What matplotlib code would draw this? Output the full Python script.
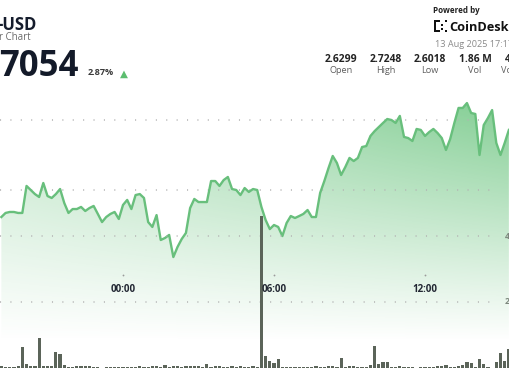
import numpy as np
import matplotlib.pyplot as plt
from matplotlib.patches import Rectangle

plt.rcParams['font.family'] = ['Open Sans', 'DejaVu Sans']

# 10 minute candles, minutes relative to 00:00
minutes = np.arange(-290, 921, 10)

prices = [2.6307, 2.6336, 2.6343, 2.6343, 2.6336, 2.6336, 2.6529, 2.6500, 2.6471, 2.6450,
          2.6550, 2.6457, 2.6443, 2.6471, 2.6507, 2.6407, 2.6336, 2.6364, 2.6364, 2.6379,
          2.6350, 2.6371, 2.6386, 2.6329, 2.6271, 2.6307, 2.6329, 2.6343, 2.6293, 2.6393,
          2.6429, 2.6364, 2.6464, 2.6471, 2.6443, 2.6271, 2.6236, 2.6321, 2.6143, 2.6157,
          2.6179, 2.6021, 2.6093, 2.6150, 2.6193, 2.6371, 2.6436, 2.6414, 2.6414, 2.6414,
          2.6564, 2.6564, 2.6529, 2.6571, 2.6593, 2.6507, 2.6500, 2.6464, 2.6514, 2.6486,
          2.6507, 2.6500, 2.6379, 2.6286, 2.6221, 2.6250, 2.6236, 2.6171, 2.6264, 2.6314,
          2.6300, 2.6314, 2.6329, 2.6357, 2.6307, 2.6307, 2.6479, 2.6564, 2.6657, 2.6743,
          2.6693, 2.6607, 2.6664, 2.6729, 2.6707, 2.6729, 2.6807, 2.6814, 2.6886, 2.6921,
          2.6950, 2.6979, 2.7007, 2.7000, 2.6979, 2.7029, 2.6879, 2.6871, 2.6850, 2.6936,
          2.6929, 2.6886, 2.6914, 2.6936, 2.6907, 2.6871, 2.6786, 2.6864, 2.6979, 2.7086,
          2.7086, 2.7121, 2.7050, 2.7043, 2.6750, 2.6964, 2.7014, 2.7071, 2.6836, 2.6750,
          2.6836, 2.6929]

# volume in millions
volumes = [0.05, 0.03, 0.03, 0.04, 0.07, 0.63, 0.12, 0.05, 0.07, 0.90,
           0.05, 0.05, 0.05, 0.48, 0.42, 0.10, 0.02, 0.03, 0.07, 0.06,
           0.06, 0.05, 0.03, 0.02, 0.01, 0.04, 0.02, 0.03, 0.04, 0.03,
           0.04, 0.03, 0.04, 0.05, 0.03, 0.04, 0.05, 0.06, 0.04, 0.10,
           0.04, 0.06, 0.06, 0.02, 0.06, 0.06, 0.05, 0.06, 0.03, 0.12,
           0.04, 0.05, 0.05, 0.03, 0.02, 0.05, 0.04, 0.05, 0.04, 0.04,
           0.05, 0.03, 4.60, 0.36, 0.21, 0.15, 0.27, 0.04, 0.03, 0.02,
           0.03, 0.03, 0.02, 0.03, 0.02, 0.05, 0.03, 0.04, 0.05, 0.05,
           0.03, 0.30, 0.03, 0.05, 0.05, 0.03, 0.03, 0.03, 0.10, 0.67,
           0.12, 0.18, 0.18, 0.03, 0.02, 0.07, 0.03, 0.03, 0.02, 0.01,
           0.02, 0.02, 0.03, 0.04, 0.05, 0.07, 0.10, 0.02, 0.03, 0.05,
           0.10, 0.18, 0.14, 0.03, 0.27, 0.12, 0.03, 0.01, 0.18, 0.44,
           0.21, 0.58]

tick_minutes = [0, 360, 720]
tick_labels = ['00:00', '06:00', '12:00']
price_grid = [2.70, 2.65]
vol_grid = [4, 2]
vol_grid_labels = ['4M', '2M']

stat_values = ['2.6299', '2.7248', '2.6018', '1.86 M', '4.97 M']
stat_names = ['Open', 'High', 'Low', 'Vol', 'Vol (USD)']

W, H = 510, 369
fig = plt.figure(figsize=(W / 100, H / 100), dpi=100)
fig.patch.set_facecolor('white')

def fx(px):
    return px / W

def fy(py):
    return 1 - py / H

# price axes
ax = fig.add_axes([0, 0, 1, 1])
ax.set_axis_off()
ax.set_xlim(-293.25, 922.65)
ax.set_ylim(2.522143, 2.785714)

# gradient under the line
cols = np.arange(W)[None, :]
rows = np.arange(H)[:, None]
amax = 0.35 + 0.35 * cols / W
alpha = amax * np.clip((340 - rows) / 240.0, 0, 1)
img = np.zeros((H, W, 4))
img[..., 0] = 76 / 255
img[..., 1] = 184 / 255
img[..., 2] = 101 / 255
img[..., 3] = alpha
poly = ax.fill_between(minutes, prices, 2.40, color='none', lw=0)
im = ax.imshow(img, extent=[*ax.get_xlim(), *ax.get_ylim()], aspect='auto',
               origin='upper', zorder=1, interpolation='bilinear')
im.set_clip_path(poly.get_paths()[0], transform=ax.transData)

ax.plot(minutes, prices, color='#68bf7c', lw=1.7, zorder=4)

for p in price_grid:
    ax.axhline(p, xmin=0, xmax=497 / W, color='#b3b3b3', lw=1.1,
               linestyle=(0, (0.7, 6.1)), zorder=2)

# volume axes
ax2 = fig.add_axes([0, 0, 1, 1], frameon=False)
ax2.set_axis_off()
ax2.set_xlim(ax.get_xlim())
ax2.set_ylim(-1 / 33, 368 / 33)
ax2.bar(minutes, volumes, width=7.6, color='#5b6459', zorder=3)
for v, lab in zip(vol_grid, vol_grid_labels):
    ax2.axhline(v, xmin=0, xmax=497 / W, color='#b3b3b3', lw=1.1,
                linestyle=(0, (0.7, 6.1)), zorder=2)
    ax2.text(505 / W, v, lab, transform=ax2.get_yaxis_transform(), fontsize=6.3,
             color='#7d877d', fontweight='bold', va='center', ha='left')

# time ticks
for m, lab in zip(tick_minutes, tick_labels):
    ax2.plot([m], [(368 - 274.5) / 33], marker='o', ms=1.3, color='#9a9a9a', mec='none')
    ax2.text(m, (368 - 292.5) / 33, lab, fontsize=7, fontweight='bold', color='#222733',
             ha='center', va='baseline')

# header, left
fig.text(fx(-3), fy(29.5), '-USD', fontsize=12, fontweight='bold', color='#151c2c', va='baseline')
fig.text(fx(-1), fy(40), 'r Chart', fontsize=7, color='#6b6b6b', va='baseline')
fig.text(fx(-1), fy(76), '7054', fontsize=25, fontweight='bold', color='#131a29', va='baseline')
fig.text(fx(88), fy(75), '2.87%', fontsize=6.6, fontweight='bold', color='#3a3a3a', va='baseline')
fig.text(fx(120), fy(76.5), '\u25b2', fontsize=7.5, color='#5cbd6f', va='baseline',
         family='DejaVu Sans')

# header, right
fig.text(fx(433), fy(13), 'Powered by', fontsize=5.8, fontweight='bold', color='#222', va='baseline')
fig.text(fx(449), fy(31), 'CoinDesk', fontsize=9.2, fontweight='bold', color='#111', va='baseline')
for (x0, y0, w, h) in [(434, 20, 2, 12), (434, 20, 6, 2), (434, 30, 6, 2),
                       (441, 24, 2, 2), (441, 28, 2, 2), (445, 20, 2, 2), (445, 30, 2, 2)]:
    fig.add_artist(Rectangle((fx(x0), fy(y0 + h)), w / W, h / H, transform=fig.transFigure,
                             color='#111', lw=0))
fig.text(fx(435), fy(47), '13 Aug 2025 17:17', fontsize=6.6, color='#8a8a8a', va='baseline')

stat_x = [341, 386, 430, 475, 521]
for x, val, name in zip(stat_x, stat_values, stat_names):
    fig.text(fx(x), fy(62), val, fontsize=7.4, fontweight='bold', color='#232323',
             ha='center', va='baseline')
    fig.text(fx(x), fy(73), name, fontsize=6.6, color='#5e5e5e', ha='center', va='baseline')

fig.savefig('out.png', dpi=100, facecolor='white')
